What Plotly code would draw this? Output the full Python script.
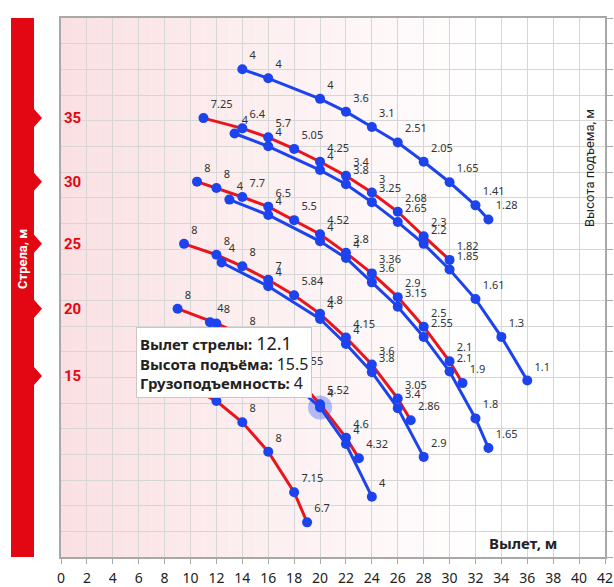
import plotly.graph_objects as go

# ---------------- data ----------------
g1_x = [14, 16, 20, 22, 24, 26, 28, 30, 32, 33]
g1_y = [38.0, 37.3, 35.7, 34.7, 33.5, 32.3, 30.8, 29.2, 27.4, 26.3]
g1_t = ["4", "4", "4", "3.6", "3.1", "2.51", "2.05", "1.65", "1.41", "1.28"]

g2r_x = [11, 14, 16, 18, 20, 22, 24, 26, 28, 30]
g2r_y = [34.2, 33.4, 32.7, 31.8, 30.8, 29.7, 28.4, 26.9, 25.0, 23.15]
g2r_t = ["7.25", "6.4", "5.7", "5.05", "4.25", "3.4", "3", "2.68", "2.3", "1.82"]
g2b_x = [13.4, 16, 20, 22, 24, 26, 28, 30, 32, 34, 36]
g2b_y = [33.0, 32.0, 30.15, 29.05, 27.65, 26.1, 24.4, 22.4, 20.1, 17.15, 13.75]
g2b_t = ["4", "4", "4", "3.8", "3.25", "2.65", "2.2", "1.85", "1.61", "1.3", "1.1"]

g3r_x = [10.5, 12, 14, 16, 18, 20, 22, 24, 26, 28, 30, 31]
g3r_y = [29.25, 28.75, 28.05, 27.3, 26.25, 25.15, 23.7, 22.1, 20.25, 17.95, 15.25, 13.55]
g3r_t = ["8", "8", "7.7", "6.5", "5.5", "4.52", "3.8", "3.36", "2.9", "2.5", "2.1", "1.9"]
g3b_x = [13, 16, 20, 22, 24, 26, 28, 30, 32, 33]
g3b_y = [27.85, 26.65, 24.6, 23.3, 21.4, 19.5, 17.15, 14.45, 10.8, 8.5]
g3b_t = ["4", "4", "4", "4", "3.6", "3.15", "2.55", "2.1", "1.8", "1.65"]

g4r_x = [9.5, 12, 14, 16, 18, 20, 22, 24, 26, 27]
g4r_y = [24.4, 23.55, 22.65, 21.6, 20.4, 18.95, 17.1, 15.0, 12.35, 10.65]
g4r_t = ["8", "8", "8", "7", "5.84", "4.8", "4.15", "3.6", "3.05", "2.86"]
g4b_x = [12.4, 16, 20, 22, 24, 26, 28]
g4b_y = [22.95, 21.1, 18.55, 16.6, 14.4, 11.6, 7.8]
g4b_t = ["4", "4", "4", "4", "3.8", "3.4", "2.9"]

g5r_x = [9, 12, 14, 16, 18, 20, 22, 23]
g5r_y = [19.35, 18.2, 17.3, 15.9, 14.15, 11.9, 9.3, 7.7]
g5r_t = ["8", "8", "8", "7", "5.55", "5.52", "4.6", "4.32"]
g5b_x = [11.5, 16, 20, 22, 24]
g5b_y = [18.3, 15.2, 11.65, 8.8, 4.7]
g5b_t = ["4", "4", "4", "4", "4"]

g6r_x = [8.5, 12, 14, 16, 18, 19]
g6r_y = [14.1, 12.15, 10.5, 8.2, 5.05, 2.7]
g6r_t = ["8", "8", "8", "8", "7.15", "6.7"]

boom_labels = ["35", "30", "25", "20", "15"]
boom_heights = [g2r_y[0], g3r_y[0], g4r_y[0], g5r_y[0], g6r_y[0]]

x_ticks = list(range(0, 43, 2))

hover_x = [20]
hover_y = [11.65]
tooltip_lines = [("Вылет стрелы:", "12.1", 18), ("Высота подъёма:", "15.5", 16), ("Грузоподъемность:", "4", 16)]

# ---------------- styles ----------------
BLUE = "#1c43ee"
RED = "#e8151c"
BAR_RED = "#e30613"
LBL_FONT = dict(family="Noto Sans, DejaVu Sans, sans-serif", size=11, color="#333333")
COND = "Roboto, Liberation Sans Narrow, sans-serif"

fig = go.Figure()

# highlight halo
fig.add_trace(go.Scatter(x=hover_x, y=hover_y, mode="markers",
                         marker=dict(size=24, color="rgba(40,80,240,0.35)"),
                         hoverinfo="skip", showlegend=False))

series = [
    (g1_x, g1_y, g1_t, BLUE),
    (g2r_x, g2r_y, g2r_t, RED),
    (g2b_x, g2b_y, g2b_t, BLUE),
    (g3r_x, g3r_y, g3r_t, RED),
    (g3b_x, g3b_y, g3b_t, BLUE),
    (g4r_x, g4r_y, g4r_t, RED),
    (g4b_x, g4b_y, g4b_t, BLUE),
    (g5r_x, g5r_y, g5r_t, RED),
    (g5b_x, g5b_y, g5b_t, BLUE),
    (g6r_x, g6r_y, g6r_t, RED),
]
for xs, ys, ts, col in series:
    fig.add_trace(go.Scatter(
        x=xs, y=ys, text=ts, mode="lines+markers+text",
        line=dict(color=col, width=3),
        marker=dict(size=10, color=BLUE),
        textposition="top right", textfont=LBL_FONT,
        showlegend=False, hoverinfo="skip"))

# ---------------- background gradient ----------------
shapes = []
n_strips = 32
for i in range(n_strips):
    f = i / n_strips
    r = round(250 + (255 - 250) * f)
    g = round(224 + (255 - 224) * f)
    b = round(227 + (255 - 227) * f)
    shapes.append(dict(type="rect", xref="x", yref="y", x0=i, x1=i + 1, y0=0, y1=42,
                       fillcolor=f"rgb({r},{g},{b})", line=dict(width=0), layer="below"))

# ---------------- layout geometry (px) ----------------
ML, MR, MT, MB = 61, 9, 18, 30
W, H = 614, 587
PW, PH = float(W - ML - MR), float(H - MT - MB)

def px_x(p):
    return (p - ML) / PW

def px_y(p):
    return (H - MB - p) / PH

# ---------------- red side bar with notches ----------------
bx0, bx1, btip = px_x(11), px_x(34), px_x(42)
half = 9 / PH
path = f"M {bx0},0 L {bx1},0 "
pts = sorted([h / 42 for h in boom_heights])
for p in pts:
    path += f"L {bx1},{p - half} L {btip},{p} L {bx1},{p + half} "
path += f"L {bx1},1.0 L {bx0},1.0 Z"
shapes.append(dict(type="path", xref="paper", yref="paper", path=path,
                   fillcolor=BAR_RED, line=dict(width=0), layer="below"))

annotations = []
annotations.append(dict(xref="paper", yref="paper", x=px_x(22), y=px_y(259),
                        xanchor="center", yanchor="middle",
                        text="<b>Стрела, м</b>", textangle=-90, showarrow=False,
                        font=dict(family=COND, size=13, color="white")))
for lab, h in zip(boom_labels, boom_heights):
    annotations.append(dict(xref="x", yref="y", x=0.1, y=h, xanchor="left", yanchor="middle",
                            text=f"<b>{lab}</b>", showarrow=False,
                            font=dict(family=COND, size=15, color=BAR_RED)))
annotations.append(dict(xref="paper", yref="paper", x=px_x(590), y=px_y(168),
                        xanchor="center", yanchor="middle",
                        text="Высота подъема, м", textangle=-90, showarrow=False,
                        font=dict(family=COND, size=13, color="#222222")))
annotations.append(dict(xref="paper", yref="paper", x=px_x(523), y=px_y(543),
                        text="<b>Вылет, м</b>", showarrow=False, xanchor="center", yanchor="middle",
                        font=dict(family="Noto Sans, sans-serif", size=15, color="#222222")))

tip_text = "<br>".join(
    f"<b>{k}</b> <span style='font-size:{s}px'>{v}</span>" for k, v, s in tooltip_lines)
annotations.append(dict(xref="paper", yref="paper", x=px_x(136), y=px_y(326.5),
                        xanchor="left", yanchor="top", text=tip_text, align="left",
                        showarrow=False, bgcolor="white", bordercolor="#c8c8c8",
                        borderwidth=1, borderpad=3,
                        font=dict(family="Noto Sans, sans-serif", size=15, color="#222222")))

fig.update_layout(
    width=W, height=H,
    margin=dict(l=ML, r=MR, t=MT, b=MB, autoexpand=False),
    paper_bgcolor="white", plot_bgcolor="white",
    shapes=shapes, annotations=annotations,
    showlegend=False,
    xaxis=dict(range=[0, 42], tickvals=x_ticks, ticktext=[str(v) for v in x_ticks],
               showgrid=True, gridcolor="#d6d6d6", gridwidth=1,
               showline=True, linecolor="#a8a8a8", linewidth=2, mirror=True,
               ticks="outside", ticklen=5, tickcolor="#a8a8a8", ticklabelstandoff=2,
               tickfont=dict(family="Noto Sans, sans-serif", size=14, color="#222222"),
               zeroline=False, fixedrange=True, automargin=False),
    yaxis=dict(range=[0, 42], dtick=2, side="right", showticklabels=False,
               showgrid=True, gridcolor="#d6d6d6", gridwidth=1,
               showline=True, linecolor="#a8a8a8", linewidth=2, mirror=True,
               ticks="outside", ticklen=6, tickcolor="#a8a8a8",
               zeroline=False, fixedrange=True, automargin=False),
)

fig.write_html(
    "out.html",
    config={"displayModeBar": False, "staticPlot": True},
    post_script=("document.documentElement.style.margin='0px';"
                 "document.documentElement.style.overflow='hidden';"
                 "document.body.style.margin='0px';"
                 "document.body.style.overflow='hidden';"),
)
